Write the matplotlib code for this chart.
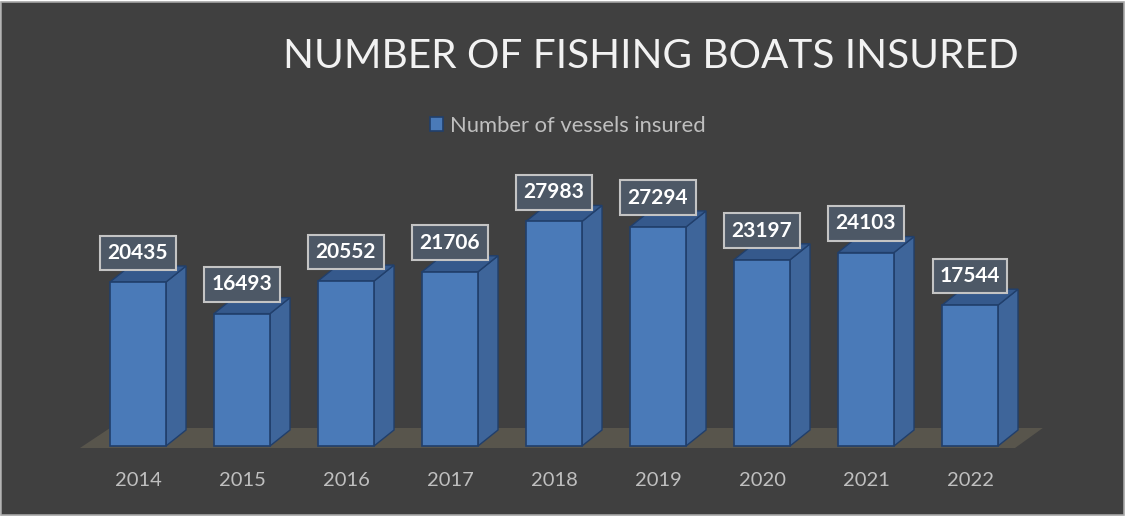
import numpy as np
import matplotlib.pyplot as plt
from matplotlib.patches import Polygon, Rectangle

years = ['2014', '2015', '2016', '2017', '2018', '2019', '2020', '2021', '2022']
vessels = [20435, 16493, 20552, 21706, 27983, 27294, 23197, 24103, 17544]

plt.rcParams['font.family'] = ['Lato', 'DejaVu Sans']

W, H = 1126, 516
fig = plt.figure(figsize=(W / 100, H / 100), dpi=100, facecolor='white')
fig.patches.append(Rectangle((1 / W, 1 / H), 1 - 3 / W, 1 - 3 / H, transform=fig.transFigure,
                             facecolor='#404040', edgecolor='#a6a6a6', lw=1.2, zorder=-5))

ax = fig.add_axes([0, 0, 1, 1])
ax.set_zorder(2)
ax.set_facecolor('none')
ax.axis('off')

# pixel -> data mapping: category spacing 104 px, first centre at 138 px, zero line at 446 px from top
per_px = 124.6
ax.set_xlim(-138 / 104, (W - 138) / 104)
ax.set_ylim(-(H - 446) * per_px, 446 * per_px)

x = np.arange(len(years))
w = 56 / 104
dx, dy = 20 / 104, 16 * per_px

# floor
fl = Polygon([(-0.558, -2 * per_px), (8.433, -2 * per_px), (8.70, 18 * per_px), (-0.269, 18 * per_px)],
             closed=True, facecolor='#58554c', edgecolor='none', zorder=1)
ax.add_patch(fl)

front = '#4a7ab8'
side = '#3e659a'
top = '#35598c'
edge = '#213f6b'

for xi, v in zip(x, vessels):
    r = xi + w / 2
    l = xi - w / 2
    ax.add_patch(Polygon([(r, 0), (r + dx, dy), (r + dx, v + dy), (r, v)], closed=True,
                         facecolor=side, edgecolor=edge, lw=1, zorder=2))
    ax.add_patch(Polygon([(l, v), (r, v), (r + dx, v + dy), (l + dx, v + dy)], closed=True,
                         facecolor=top, edgecolor=edge, lw=1, zorder=2))

bars = ax.bar(x, vessels, width=w, color=front, edgecolor=edge, lw=1.2, zorder=3,
              label='Number of vessels insured')

for xi, v in zip(x, vessels):
    ax.annotate(f'{v}', (xi, v), xytext=(0, 21), textcoords='offset points',
                ha='center', va='center', fontsize=15, fontweight='bold', color='white', zorder=5,
                bbox=dict(boxstyle='square,pad=0.35', facecolor='#4d5866', edgecolor='#c4c4c4', lw=1.5))

for xi, yr in zip(x, years):
    ax.text(xi, -34 * per_px, yr, ha='center', va='center', fontsize=14.5, color='#bfbfbf')

fig.text(0.578, 1 - 57 / H, 'NUMBER OF FISHING BOATS INSURED', ha='center', va='center',
         fontsize=29.2, color='#f2f2f2')

fig.legend(handles=[bars], loc='center', bbox_to_anchor=(568 / W, 1 - 126 / H), frameon=False,
           fontsize=15.8, labelcolor='#bfbfbf', handlelength=0.6, handleheight=0.6, handletextpad=0.3)

fig.savefig('out.png', dpi=100, facecolor=fig.get_facecolor())
